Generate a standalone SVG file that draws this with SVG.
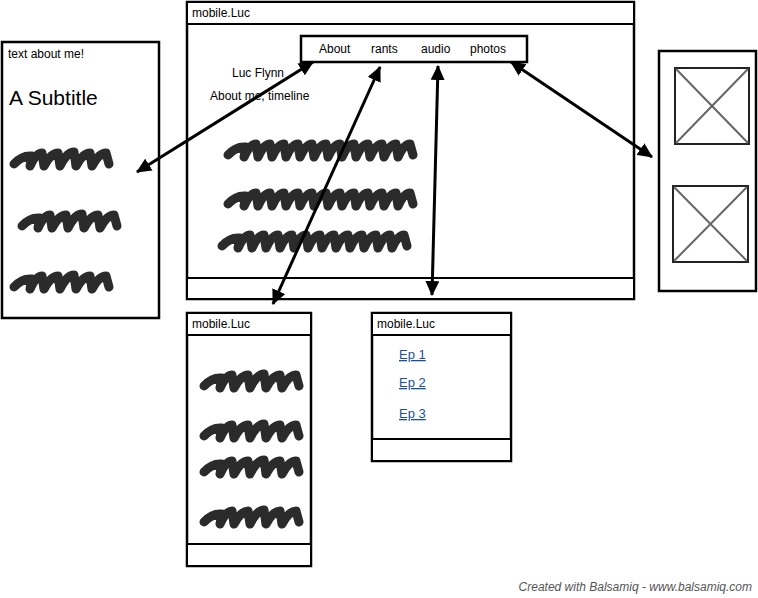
<svg xmlns="http://www.w3.org/2000/svg" width="758" height="598" viewBox="0 0 758 598">
<style>
.box{fill:#fff;stroke:#000;stroke-width:2.5}
.bar{fill:#fff;stroke:#000;stroke-width:2}
.t{font-family:"Liberation Sans",Arial,sans-serif;fill:#000}
.link{font-family:"Liberation Sans",Arial,sans-serif;fill:#1a4f9c;font-size:13px;text-decoration:underline}
.scr{fill:none;stroke:#2b2b2b;stroke-width:9;stroke-linecap:round;stroke-linejoin:round}
.img{fill:#fff;stroke:#222;stroke-width:2}
.x{stroke:#666;stroke-width:2}
.arr{fill:none;stroke:#000;stroke-width:3;marker-start:url(#ah);marker-end:url(#ah)}
</style>
<defs>
<marker id="ah" markerUnits="userSpaceOnUse" markerWidth="16" markerHeight="14" refX="14" refY="7" orient="auto-start-reverse">
<path d="M0,0 L15,7 L0,14 z" fill="#000"/>
</marker>
<path id="s1" class="scr" d="M0,5 Q8,-4 18,-3 L16,7 Q22,-6 28,-6 L30,7 Q37,-6 44,-6 L46,7 Q53,-7 60,-7 L62,7 Q69,-6 76,-6 L78,7 Q85,-6 92,-6 L95,5"/>
<path id="s2" class="scr" d="M0,5 Q8,-4 18,-3 L16,7 Q22,-6 28,-6 L30,7 Q36,-6 42,-6 L44,7 Q50,-6 56,-6 L58,7 Q64,-6 70,-6 L72,7 Q78,-6 84,-6 L86,7 Q92,-6 98,-6 L100,7 Q106,-6 112,-6 L114,7 Q120,-6 126,-6 L128,7 Q134,-6 140,-6 L142,7 Q148,-6 154,-6 L156,7 Q162,-6 168,-6 L170,7 Q176,-6 182,-6 L185,5"/>
</defs>

<g id="left-panel">
<rect class="box" x="2" y="42" width="157" height="276"/>
<text class="t" x="8" y="58" font-size="12">text about me!</text>
<text class="t" x="9" y="105" font-size="21">A Subtitle</text>
<use href="#s1" x="14" y="159"/>
<use href="#s1" x="22" y="221"/>
<use href="#s1" x="14" y="282"/>
</g>

<g id="main-window">
<rect class="box" x="187" y="2" width="447" height="297"/>
<rect class="bar" x="187" y="2" width="447" height="22"/>
<text class="t" x="192" y="17" font-size="12">mobile.Luc</text>
<rect class="bar" x="187" y="278" width="447" height="21"/>
<text class="t" x="232" y="77" font-size="12">Luc Flynn</text>
<text class="t" x="210" y="100" font-size="12">About me, timeline</text>
<use href="#s2" x="228" y="150"/>
<use href="#s2" x="228" y="199"/>
<use href="#s2" x="222" y="241"/>
</g>

<g id="nav-bar">
<rect class="box" x="301" y="36" width="226" height="26"/>
<text class="t" x="319" y="53" font-size="12">About</text>
<text class="t" x="371" y="53" font-size="12">rants</text>
<text class="t" x="421" y="53" font-size="12">audio</text>
<text class="t" x="470" y="53" font-size="12">photos</text>
</g>

<g id="right-panel">
<rect class="box" x="659" y="51" width="97" height="240"/>
<rect class="img" x="675" y="68" width="74" height="76"/>
<line class="x" x1="676" y1="69" x2="748" y2="143"/>
<line class="x" x1="748" y1="69" x2="676" y2="143"/>
<rect class="img" x="673" y="186" width="75" height="76"/>
<line class="x" x1="674" y1="187" x2="747" y2="261"/>
<line class="x" x1="747" y1="187" x2="674" y2="261"/>
</g>

<g id="rants-window">
<rect class="box" x="187" y="313" width="124" height="253"/>
<rect class="bar" x="187" y="313" width="124" height="22"/>
<text class="t" x="192" y="328" font-size="12">mobile.Luc</text>
<rect class="bar" x="187" y="544" width="124" height="22"/>
<use href="#s1" x="204" y="381"/>
<use href="#s1" x="204" y="431"/>
<use href="#s1" x="204" y="467"/>
<use href="#s1" x="204" y="517"/>
</g>

<g id="audio-window">
<rect class="box" x="372" y="313" width="139" height="148"/>
<rect class="bar" x="372" y="313" width="139" height="22"/>
<text class="t" x="377" y="328" font-size="12">mobile.Luc</text>
<rect class="bar" x="372" y="439" width="139" height="22"/>
<text class="link" x="399" y="359">Ep 1</text>
<text class="link" x="399" y="387">Ep 2</text>
<text class="link" x="399" y="418">Ep 3</text>
</g>

<g id="connectors">
<line class="arr" x1="137" y1="172" x2="313" y2="62"/>
<line class="arr" x1="380" y1="67" x2="273" y2="304"/>
<line class="arr" x1="438" y1="66" x2="432" y2="295"/>
<line class="arr" x1="511" y1="62" x2="652" y2="157"/>
</g>

<text x="752" y="591" text-anchor="end" font-family="Liberation Sans,Arial,sans-serif" font-style="italic" font-size="12" fill="#555">Created with Balsamiq - www.balsamiq.com</text>
</svg>
